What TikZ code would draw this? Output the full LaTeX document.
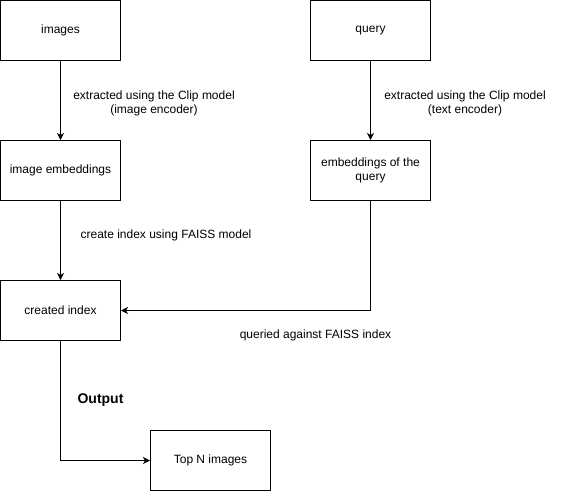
\documentclass[tikz,border=0pt]{standalone}
\usepackage{fontspec}
\setmainfont{Liberation Sans}
\usetikzlibrary{arrows.meta}

\begin{document}
\begin{tikzpicture}[x=1pt, y=-1pt,
 box/.style={draw, line width=1pt, minimum width=120pt, minimum height=60pt, inner sep=0pt, align=center, font=\fontsize{12}{14}\selectfont},
 lbl/.style={align=center, inner sep=0pt, font=\fontsize{12}{14}\selectfont},
 >={Stealth[length=7pt, width=7pt, inset=2pt]}]
\useasboundingbox (0,0) rectangle (562,491);
\node[box] (images) at (60.5,30.5) {images};
\node[box] (query) at (370.5,30.5) {query};
\node[box] (imgemb) at (60.5,170.5) {image embeddings};
\node[box] (queryemb) at (370.5,170.5) {embeddings of the\\query};
\node[box] (index) at (60.5,310.5) {created index};
\node[box] (topn) at (210.5,460.5) {Top N images};
 \draw[->, line width=1pt] (images) -- (imgemb);
 \draw[->, line width=1pt] (query) -- (queryemb);
 \draw[->, line width=1pt] (imgemb) -- (index);
 \draw[->, line width=1pt] (queryemb.south) |- (index.east);
 \draw[->, line width=1pt] (index.south) |- (topn.west);
\node[lbl] (extimg) at (154,103) {extracted using the Clip model\\(image encoder)};
\node[lbl] (exttxt) at (465,103) {extracted using the Clip model\\(text encoder)};
\node[lbl] (faiss) at (166,235) {create index using FAISS model};
\node[lbl] (queried) at (315.5,335) {queried against FAISS index};
\node[lbl, font=\fontsize{14}{16}\selectfont\bfseries] (output) at (100.5,400) {Output};
\end{tikzpicture}
\end{document}
